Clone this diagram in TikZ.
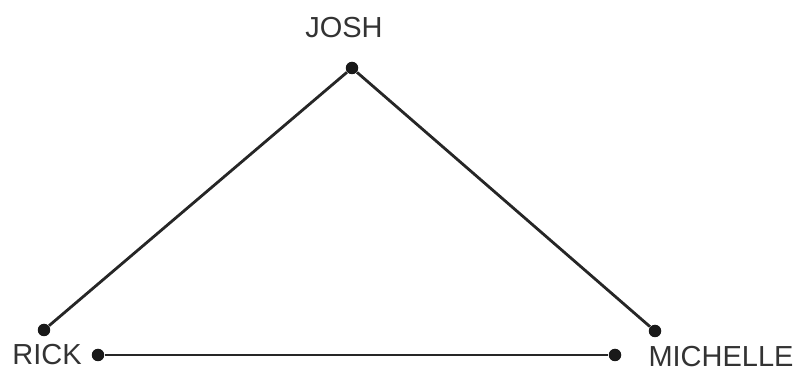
\documentclass[tikz,border=0pt]{standalone}
\usepackage{fontspec}
\setmainfont{Liberation Sans}
\usetikzlibrary{positioning}

\begin{document}
\begin{tikzpicture}[x=0.02cm,y=-0.02cm,
  dot/.style={circle,fill=black!90,inner sep=0pt,minimum size=0.25cm},
  tie/.style={line width=1.6pt,black!85},
  person/.style={font=\fontsize{16.5}{19}\selectfont,text=black!80}]
  \useasboundingbox (0,0) rectangle (799,371);

  % people
  \node[dot] (josh) at (352,68) {};
  \node[dot] (rickup) at (44,330) {};
  \node[dot] (michup) at (655,331) {};
  \node[dot] (rick) at (98,355) {};
  \node[dot] (mich) at (615,355) {};

  % names
  \node[person] (joshlbl) at (344,28) {JOSH};
  \node[person] (ricklbl) at (47,355) {RICK};
  \node[person] (michlbl) at (721,357) {MICHELLE};

  % ties
  \draw[tie] (josh) -- (rickup);
  \draw[tie] (josh) -- (michup);
  \draw[tie] (rick) -- (mich);
\end{tikzpicture}
\end{document}
